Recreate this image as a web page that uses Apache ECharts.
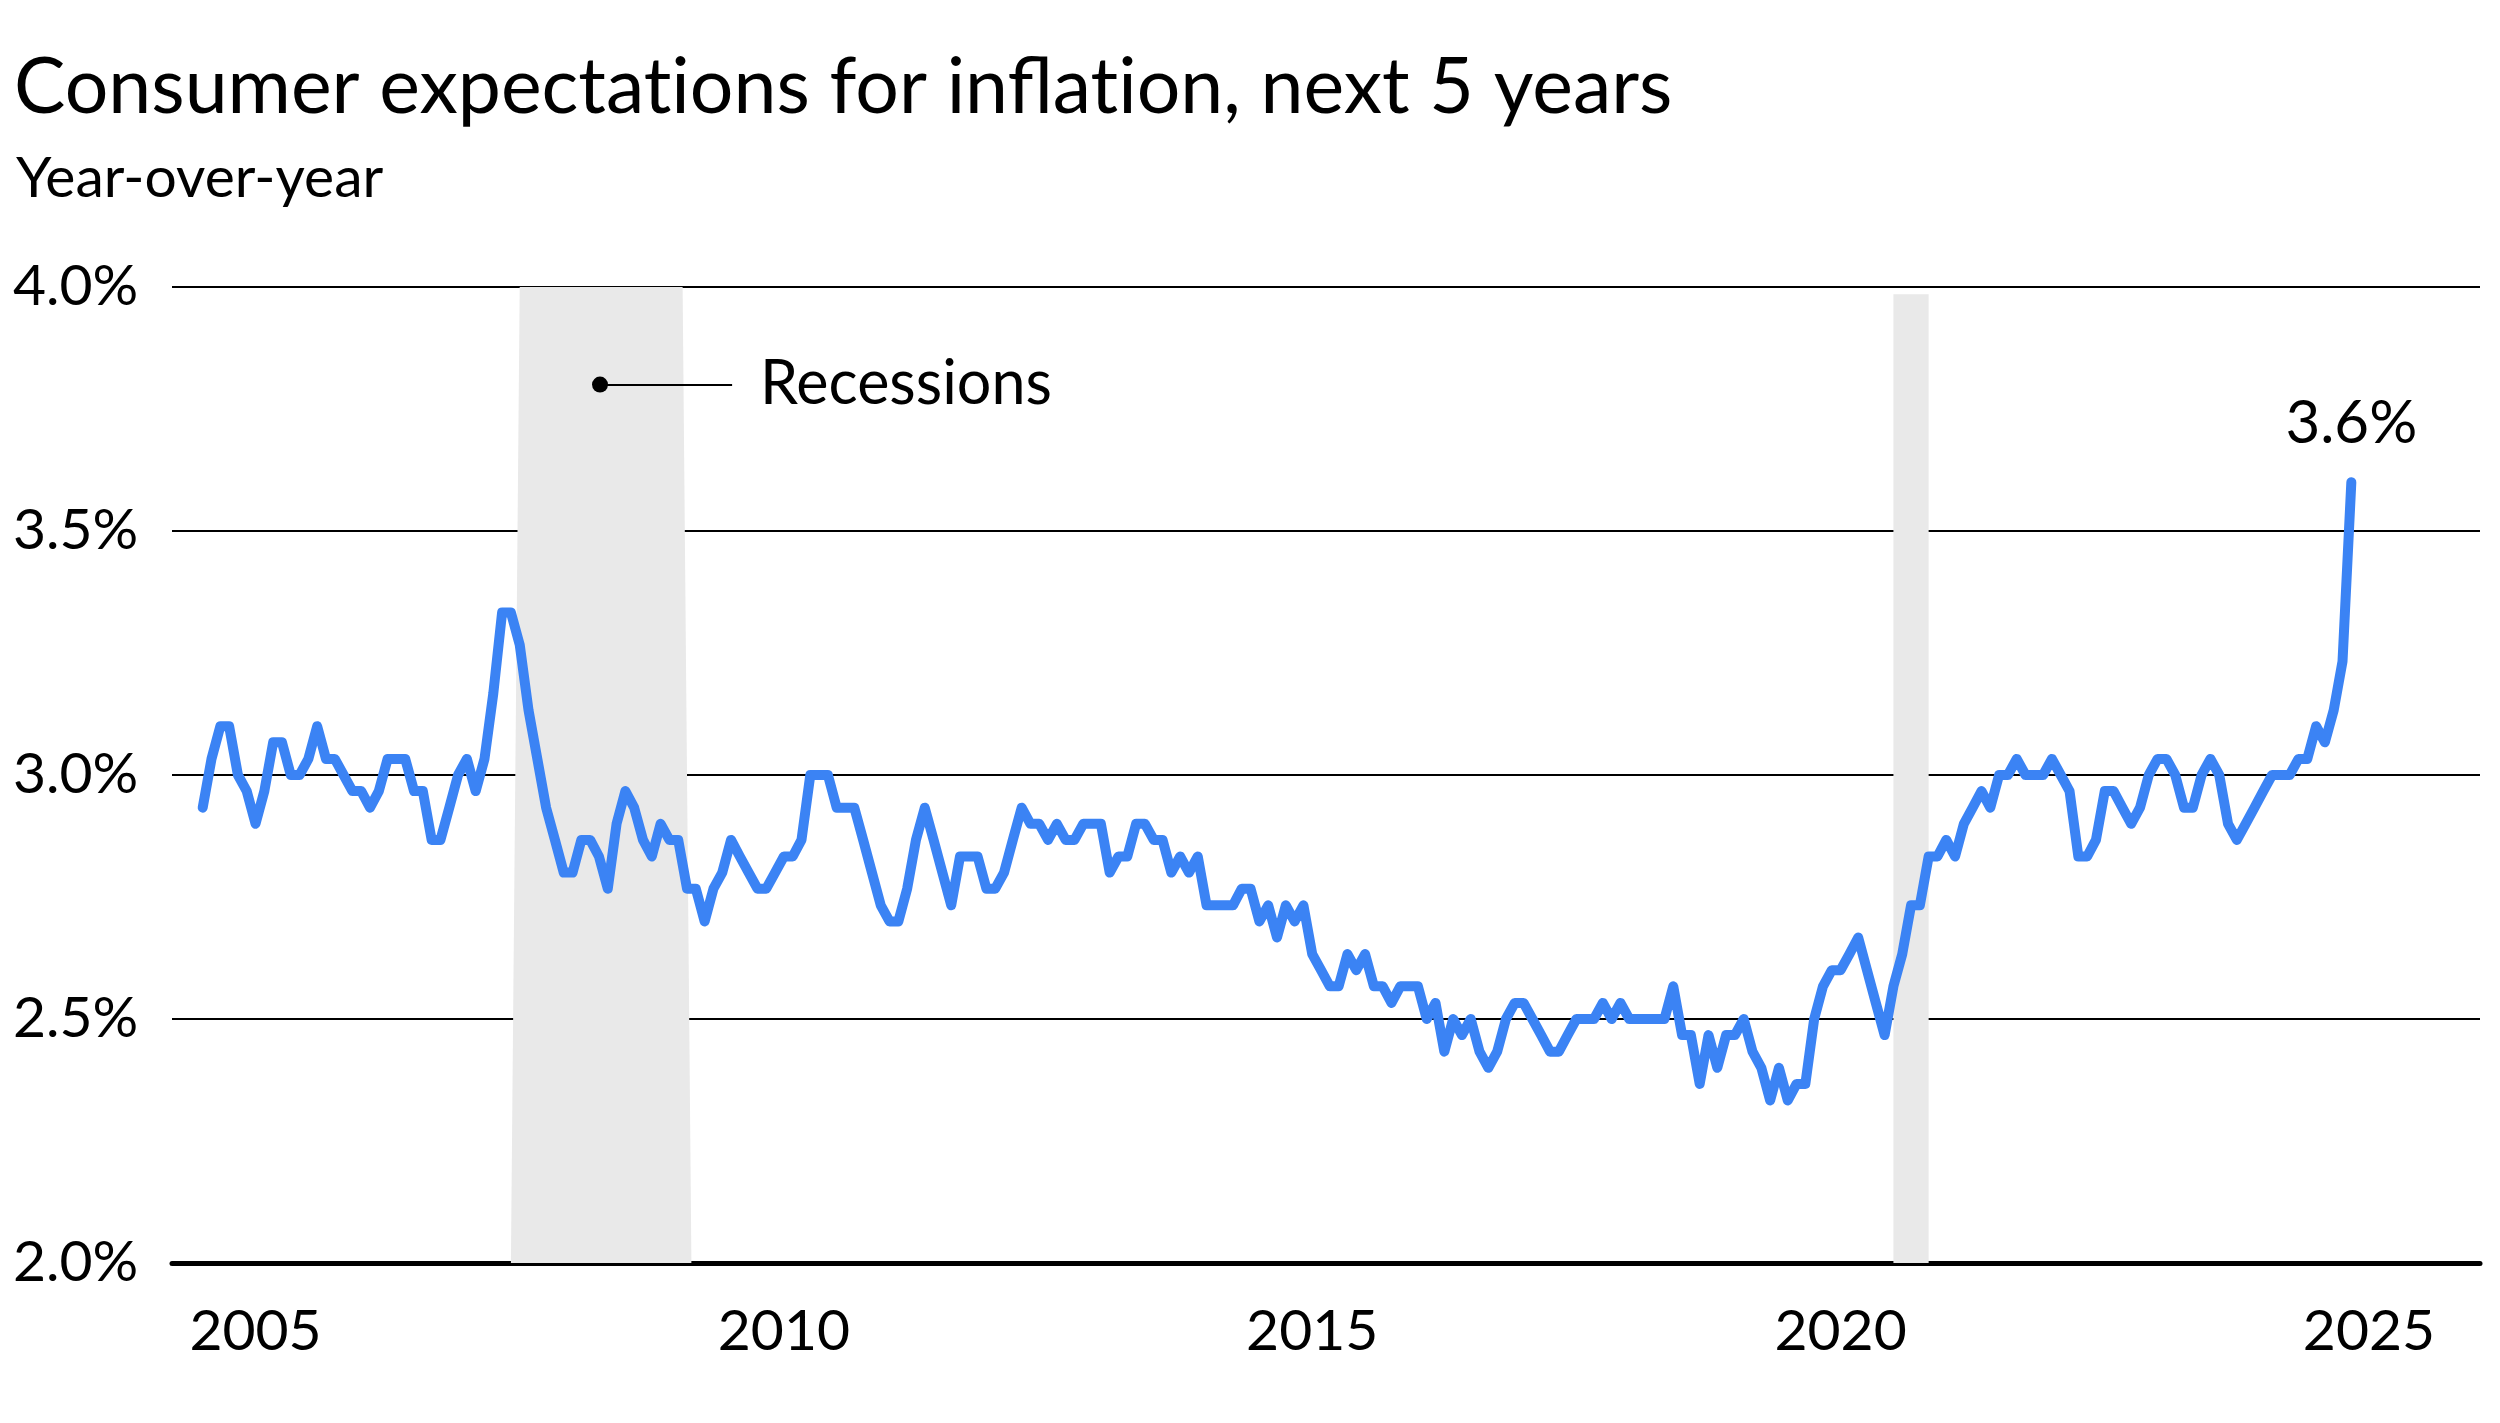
<!DOCTYPE html>
<html><head><meta charset="utf-8">
<script src="https://cdn.jsdelivr.net/npm/echarts@6/dist/echarts.min.js"></script>
<style>html,body{margin:0;padding:0;background:#fff}#c{width:2500px;height:1423px}</style>
</head><body><div id="c"></div>
<script>
// ---- data ----
// (\u200C keeps the font from merging "ti" into a ligature)
const titleText = 'Consumer expectat\u200Cions for inflat\u200Cion, next 5 years';
const subtitleText = 'Year-over-year';
const firstMonth = 2004.5; // first monthly observation (decimal year)
const values = [
 2.933,3.033,3.1,3.1,3.0,2.967,2.9,2.967,3.067,3.067,
 3.0,3.0,3.033,3.1,3.033,3.033,3.0,2.967,2.967,2.933,
 2.967,3.033,3.033,3.033,2.967,2.967,2.867,2.867,2.933,3.0,
 3.033,2.967,3.033,3.167,3.333,3.333,3.267,3.133,3.033,2.933,
 2.867,2.8,2.8,2.867,2.867,2.833,2.767,2.9,2.967,2.933,
 2.867,2.833,2.9,2.867,2.867,2.767,2.767,2.7,2.767,2.8,
 2.867,2.833,2.8,2.767,2.767,2.8,2.833,2.833,2.867,3.0,
 3.0,3.0,2.933,2.933,2.933,2.867,2.8,2.733,2.7,2.7,
 2.767,2.867,2.933,2.867,2.8,2.733,2.833,2.833,2.833,2.767,
 2.767,2.8,2.867,2.933,2.9,2.9,2.867,2.9,2.867,2.867,
 2.9,2.9,2.9,2.8,2.833,2.833,2.9,2.9,2.867,2.867,
 2.8,2.833,2.8,2.833,2.733,2.733,2.733,2.733,2.767,2.767,
 2.7,2.733,2.667,2.733,2.7,2.733,2.633,2.6,2.567,2.567,
 2.633,2.6,2.633,2.567,2.567,2.533,2.567,2.567,2.567,2.5,
 2.533,2.433,2.5,2.467,2.5,2.433,2.4,2.433,2.5,2.533,
 2.533,2.5,2.467,2.433,2.433,2.467,2.5,2.5,2.5,2.533,
 2.5,2.533,2.5,2.5,2.5,2.5,2.5,2.567,2.467,2.467,
 2.367,2.467,2.4,2.467,2.467,2.5,2.433,2.4,2.333,2.4,
 2.333,2.367,2.367,2.5,2.567,2.6,2.6,2.633,2.667,2.6,
 2.533,2.467,2.567,2.633,2.733,2.733,2.833,2.833,2.867,2.833,
 2.9,2.933,2.967,2.933,3.0,3.0,3.033,3.0,3.0,3.0,
 3.033,3.0,2.967,2.833,2.833,2.867,2.967,2.967,2.933,2.9,
 2.933,3.0,3.033,3.033,3.0,2.933,2.933,3.0,3.033,3.0,
 2.9,2.867,2.9,2.933,2.967,3.0,3.0,3.0,3.033,3.033,
 3.1,3.067,3.133,3.233,3.6
];
const xTicks = [2005, 2010, 2015, 2020, 2025];
const yMin = 2.0, yMax = 4.0, yStep = 0.5;
const recStart = [2007.5, 2020.5];
const recEnd = [2009.0417, 2020.8333];
const recRamp = [0.0833, 0];
const recTop = [4.0, 3.985];
const noteText = 'Recessions';
const noteFrom = [2008.26, 3.8];
const noteTo = [2009.51, 3.8];
const lastLabel = '3.6%';

// ---- chart ----
const FONT = 'Lato';
const lineData = values.map((v, i) => [firstMonth + i / 12, v]);
const last = lineData[lineData.length - 1];

const recSeries = recStart.map((s, k) => ({
  type: 'line',
  data: [[s - recRamp[k], yMin], [s, recTop[k]], [recEnd[k], recTop[k]], [recEnd[k] + recRamp[k], yMin]],
  symbol: 'none',
  lineStyle: { width: 0 },
  areaStyle: { color: '#e9e9e9', opacity: 1, origin: 'start' },
  silent: true,
  z: 1,
  markLine: k === 0 ? {
    silent: true,
    symbol: ['none', 'none'],
    lineStyle: { color: '#000', width: 2, type: 'solid' },
    label: { show: true, position: 'end', distance: 28, formatter: noteText,
             fontFamily: FONT, fontSize: 61, color: '#000' },
    data: [[{ coord: noteFrom }, { coord: noteTo }]]
  } : undefined,
  markPoint: k === 0 ? {
    silent: true,
    symbol: 'circle', symbolSize: 16,
    itemStyle: { color: '#000' },
    label: { show: false },
    data: [{ coord: noteFrom }]
  } : undefined
}));

const option = {
  animation: false,
  backgroundColor: '#fff',
  title: [
    { text: titleText, left: 9, top: 45,
      textStyle: { fontFamily: FONT, fontSize: 77, fontWeight: 'normal', color: '#000', lineHeight: 77 } },
    { text: subtitleText, left: 11, top: 145,
      textStyle: { fontFamily: FONT, fontSize: 57, fontWeight: 'normal', color: '#000', lineHeight: 57 } }
  ],
  grid: { left: 172, right: 20, top: 287, bottom: 160, containLabel: false },
  xAxis: {
    type: 'value',
    min: 2004.2095, max: 2026.051,
    axisLine: { show: true, lineStyle: { color: '#000', width: 5 } },
    axisTick: { show: false },
    splitLine: { show: false },
    axisLabel: { customValues: xTicks, formatter: v => String(Math.round(v)),
                 fontFamily: FONT, fontSize: 57, lineHeight: 57, color: '#000', margin: 40 }
  },
  yAxis: {
    type: 'value', min: yMin, max: yMax, interval: yStep,
    axisLine: { show: false }, axisTick: { show: false },
    splitLine: { show: true, lineStyle: { color: '#000', width: 2 } },
    axisLabel: { formatter: v => v.toFixed(1) + '%', align: 'left', margin: 159,
                 fontFamily: FONT, fontSize: 57, color: '#000', padding: [18, 0, 0, 0] }
  },
  series: [
    ...recSeries,
    {
      type: 'line',
      data: lineData,
      showSymbol: false,
      symbol: 'none',
      lineStyle: { color: '#3b83f4', width: 10, cap: 'round', join: 'round' },
      z: 5,
      markPoint: {
        symbol: 'circle', symbolSize: 1,
        itemStyle: { color: 'rgba(0,0,0,0)' },
        label: { show: true, position: 'top', distance: 28, formatter: lastLabel,
                 fontFamily: FONT, fontSize: 60, color: '#000' },
        data: [{ coord: last }]
      }
    }
  ]
};
const chart = echarts.init(document.getElementById('c'), null, { renderer: 'canvas' });
chart.setOption(option);
</script></body></html>
